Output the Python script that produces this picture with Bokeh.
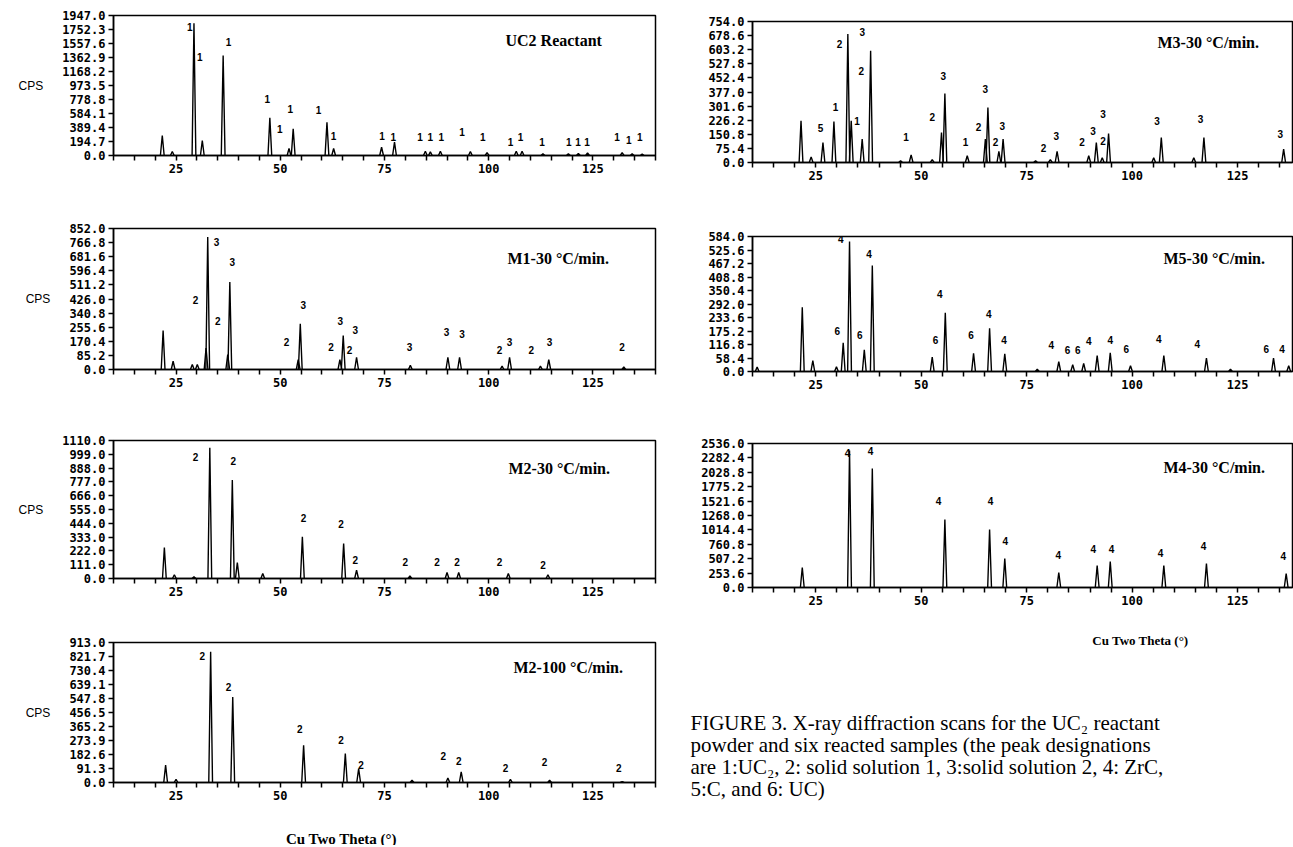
from bokeh.plotting import figure
from bokeh.layouts import row, column
from bokeh.models import Range1d, FixedTicker, Label, PrintfTickFormatter
from bokeh.core.properties import value
from bokeh.embed import file_html
from bokeh.resources import INLINE

# ---------------- data ----------------
X_MAJOR = [25, 50, 75, 100, 125]
X_MINOR = [10, 15, 20, 30, 35, 40, 45, 55, 60, 65, 70, 80, 85, 90, 95,
           105, 110, 115, 120, 130, 135, 140]

# UC2 reactant
uc2_yticks = [0.0, 194.7, 389.4, 584.1, 778.8, 973.5, 1168.2, 1362.9, 1557.6, 1752.3, 1947.0]
uc2_pos = [21.7, 24.1, 29.3, 31.3, 36.3, 47.5, 52.1, 53.1, 61.2, 62.8, 74.3, 77.4, 84.8, 86.0,
           88.4, 95.6, 99.6, 106.6, 108.0, 113.0, 119.1, 121.5, 123.7, 132.0, 134.4, 136.8]
uc2_int = [278, 55, 1840, 209, 1391, 524, 97, 371, 463, 97, 115, 185, 60, 50,
           60, 55, 40, 60, 60, 25, 25, 30, 35, 40, 25, 20]
uc2_lab_x = [28.3, 30.7, 37.6, 46.9, 49.9, 52.4, 59.2, 62.8, 74.4, 77.1, 83.5, 86.0, 88.6, 93.6,
             98.6, 105.2, 107.6, 112.8, 119.2, 121.4, 123.6, 130.8, 133.6, 136.2]
uc2_lab_y = [1785, 1367, 1576, 789, 371, 650, 626, 278, 278, 255, 255, 255, 255, 324,
             255, 185, 255, 185, 185, 185, 185, 255, 210, 255]
uc2_lab_t = ["1"] * len(uc2_lab_x)

# M1-30
m1_yticks = [0.0, 85.2, 170.4, 255.6, 340.8, 426.0, 511.2, 596.4, 681.6, 766.8, 852.0]
m1_pos = [21.9, 24.3, 28.9, 30.1, 32.2, 32.6, 37.4, 37.9, 54.3, 54.8, 64.3, 65.1, 68.3, 81.2,
          90.2, 93.0, 103.2, 105.0, 112.4, 114.4, 132.4]
m1_int = [236, 50, 30, 30, 130, 800, 90, 528, 60, 276, 60, 205, 74, 25,
          74, 74, 20, 74, 20, 60, 15]
m1_lab_x = [34.7, 29.7, 35.0, 38.5, 55.5, 51.5, 64.4, 62.2, 66.6, 68.0, 81.0, 89.9, 93.6,
            102.6, 105.0, 110.2, 114.6, 132.0]
m1_lab_y = [769, 417, 296, 648, 387, 165, 296, 135, 115, 236, 135, 225, 217,
            115, 169, 115, 169, 135]
m1_lab_t = ["3", "2", "2", "3", "3", "2", "3", "2", "2", "3", "3", "3", "3",
            "2", "3", "2", "3", "2"]

# M2-30
m2_yticks = [0.0, 111.0, 222.0, 333.0, 444.0, 555.0, 666.0, 777.0, 888.0, 999.0, 1110.0]
m2_pos = [22.2, 24.6, 29.3, 33.1, 38.5, 39.7, 45.8, 55.3, 65.2, 68.3, 81.1, 90.0, 92.8, 104.7, 114.2]
m2_int = [250, 30, 15, 1051, 793, 129, 40, 336, 282, 68, 20, 48, 48, 40, 30]
m2_lab_x = [29.7, 38.7, 55.6, 64.6, 68.0, 80.0, 87.6, 92.4, 102.6, 113.0]
m2_lab_y = [975, 943, 488, 440, 145, 131, 131, 131, 131, 105]
m2_lab_t = ["2"] * len(m2_lab_x)

# M2-100
m2h_yticks = [0.0, 91.3, 182.6, 273.9, 365.2, 456.5, 547.8, 639.1, 730.4, 821.7, 913.0]
m2h_pos = [22.5, 25.0, 33.3, 38.6, 55.6, 65.6, 68.8, 81.6, 90.2, 93.4, 105.2, 114.6, 132.0]
m2h_int = [113, 20, 852, 558, 243, 189, 91, 15, 30, 69, 20, 15, 5]
m2h_lab_x = [31.3, 37.6, 54.7, 64.6, 69.4, 89.1, 92.8, 104.0, 113.4, 131.2]
m2h_lab_y = [828, 621, 346, 274, 111, 171, 143, 93, 132, 93]
m2h_lab_t = ["2"] * len(m2h_lab_x)

# M3-30
m3_yticks = [0.0, 75.4, 150.8, 226.2, 301.6, 377.0, 452.4, 527.8, 603.2, 678.6, 754.0]
m3_pos = [21.5, 23.9, 26.7, 29.3, 32.6, 33.4, 36.0, 38.0, 45.1, 47.6, 52.6, 54.8, 55.6, 60.9,
          65.2, 65.8, 68.4, 69.4, 77.1, 80.6, 82.2, 89.7, 91.5, 92.9, 94.4, 105.1, 106.9,
          114.6, 117.0, 135.9]
m3_int = [223, 30, 107, 219, 687, 223, 125, 598, 10, 41, 15, 160, 369, 36,
          125, 294, 60, 125, 10, 15, 59, 36, 107, 25, 155, 25, 134,
          25, 134, 71]
m3_lab_x = [26.1, 29.7, 30.6, 36.0, 34.8, 35.8, 46.4, 52.6, 55.2, 60.5, 63.6, 65.2, 67.6,
            69.2, 79.0, 82.0, 88.1, 90.7, 93.1, 93.1, 105.9, 116.2, 135.1]
m3_lab_y = [187, 298, 633, 696, 223, 491, 134, 241, 464, 107, 191, 393, 107,
            196, 80, 143, 107, 170, 259, 116, 223, 232, 152]
m3_lab_t = ["5", "1", "2", "3", "1", "2", "1", "2", "3", "1", "2", "3", "2",
            "3", "2", "3", "2", "3", "3", "2", "3", "3", "3"]

# M5-30
m5_yticks = [0.0, 58.4, 116.8, 175.2, 233.6, 292.0, 350.4, 408.8, 467.2, 525.6, 584.0]
m5_pos = [11.1, 21.8, 24.3, 29.9, 31.5, 33.0, 36.5, 38.4, 52.6, 55.7, 62.4, 66.2, 69.8, 77.5,
          82.6, 85.9, 88.5, 91.7, 94.8, 99.6, 107.5, 117.6, 123.3, 133.5, 137.1]
m5_int = [19, 278, 47, 20, 124, 562, 94, 458, 62, 254, 79, 187, 76, 10,
          43, 30, 35, 69, 81, 25, 69, 58, 10, 58, 25]
m5_lab_x = [30.1, 30.9, 35.4, 37.6, 53.4, 54.4, 61.8, 66.0, 69.6, 80.8, 84.7, 87.1, 89.7,
            94.8, 98.6, 106.3, 115.4, 131.8, 135.5]
m5_lab_y = [177, 573, 156, 508, 138, 336, 156, 249, 138, 115, 91, 91, 134,
            137, 98, 141, 119, 98, 98]
m5_lab_t = ["6", "4", "6", "4", "6", "4", "6", "4", "4", "4", "6", "6", "4",
            "4", "6", "4", "4", "6", "4"]

# M4-30
m4_yticks = [0.0, 253.6, 507.2, 760.8, 1014.4, 1268.0, 1521.6, 1775.2, 2028.8, 2282.4, 2536.0]
m4_pos = [21.8, 33.0, 38.4, 55.6, 66.2, 69.8, 82.6, 91.7, 94.8, 107.5, 117.6, 136.5]
m4_int = [352, 2411, 2094, 1197, 1021, 510, 264, 387, 458, 387, 422, 246]
m4_lab_x = [32.5, 38.0, 54.1, 66.4, 69.9, 82.5, 90.8, 95.1, 106.7, 116.9, 135.8]
m4_lab_y = [2376, 2411, 1531, 1531, 827, 581, 686, 686, 616, 739, 546]
m4_lab_t = ["4"] * len(m4_lab_x)

X_TITLE = "Cu Two Theta (°)"
CAPTION = [
    "FIGURE 3. X-ray diffraction scans for the UC\u2082 reactant",
    "powder and six reacted samples (the peak designations",
    "are 1:UC\u2082, 2: solid solution 1, 3:solid solution 2, 4: ZrC,",
    "5:C, and 6: UC)",
]


# ---------------- drawing ----------------
def style_axis(ax):
    ax.axis_line_width = 1.5
    ax.axis_line_color = "black"
    ax.major_tick_line_width = 1.5
    ax.major_tick_line_color = "black"
    ax.major_tick_out = 5
    ax.major_tick_in = 0
    ax.minor_tick_line_width = 1.5
    ax.minor_tick_line_color = "black"
    ax.minor_tick_out = 5
    ax.minor_tick_in = 0
    ax.major_label_text_font = "DejaVu Sans Mono"
    ax.major_label_text_font_style = "bold"
    ax.major_label_text_font_size = "12px"
    ax.major_label_text_color = "black"
    ax.major_label_standoff = 3


def make_panel(title, yticks, pos, inten, lab_x, lab_y, lab_t, *, width, height, left, right,
               top, bottom, x_end, cps, title_dx, title_dy):
    ymax = yticks[-1]
    p = figure(width=width, height=height, x_range=Range1d(10, x_end), y_range=Range1d(0, ymax),
               min_border_left=left, min_border_right=right, min_border_top=top,
               min_border_bottom=bottom, output_backend="svg", toolbar_location=None)
    p.xgrid.visible = False
    p.ygrid.visible = False
    p.outline_line_color = "black"
    p.outline_line_width = 1.5
    p.outline_line_alpha = 1.0
    xa = p.xaxis[0]
    ya = p.yaxis[0]
    xa.ticker = FixedTicker(ticks=X_MAJOR, minor_ticks=X_MINOR)
    ya.ticker = FixedTicker(ticks=yticks)
    ya.formatter = PrintfTickFormatter(format="%.1f")
    style_axis(xa)
    style_axis(ya)
    ya.minor_tick_line_color = None
    if cps:
        ya.axis_label = "CPS"
        ya.axis_label_orientation = "horizontal"
        ya.axis_label_text_font = "Liberation Sans"
        ya.axis_label_text_font_style = "normal"
        ya.axis_label_text_font_size = "12px"
        ya.axis_label_standoff = 16
        ya.axis_label_text_color = "black"

    frame_w = width - left - right
    frame_h = height - top - bottom
    w = 0.45
    xs = [[c - w, c, c + w] for c in pos]
    ys = [[0, h, 0] for h in inten]
    p.multi_line(xs, ys, line_color="black", line_width=1.4)
    p.text(x=lab_x, y=lab_y, text=lab_t, text_font=value("Liberation Sans"),
           text_font_style="bold", text_font_size="10px", text_align="center",
           text_baseline="middle", text_color="black")
    tx = 10 + title_dx * (x_end - 10) / frame_w
    ty = ymax * (1 - title_dy / frame_h)
    p.add_layout(Label(x=tx, y=ty, text=title, text_font="Liberation Serif",
                       text_font_style="bold", text_font_size="16px",
                       text_baseline="middle", text_align="left", text_color="black"))
    return p


def blank(width, height, page_x0, page_y0):
    # ranges expressed in page pixels
    p = figure(width=width, height=height, x_range=Range1d(page_x0, page_x0 + width),
               y_range=Range1d(page_y0 + height, page_y0),
               x_axis_type=None, y_axis_type=None, min_border=0,
               output_backend="svg", toolbar_location=None)
    p.outline_line_color = None
    p.grid.visible = False
    return p


L = dict(width=660, left=113, right=5, x_end=140, cps=True)
R = dict(width=633, left=92, right=1, x_end=138, cps=False)

f1 = make_panel("UC2 Reactant", uc2_yticks, uc2_pos, uc2_int, uc2_lab_x, uc2_lab_y, uc2_lab_t,
                height=205, top=15, bottom=50, title_dx=392, title_dy=25, **L)
f2 = make_panel("M1-30 °C/min.", m1_yticks, m1_pos, m1_int, m1_lab_x, m1_lab_y, m1_lab_t,
                height=213, top=23, bottom=49, title_dx=394, title_dy=30, **L)
f3 = make_panel("M2-30 °C/min.", m2_yticks, m2_pos, m2_int, m2_lab_x, m2_lab_y, m2_lab_t,
                height=202, top=22, bottom=42, title_dx=395, title_dy=28, **L)
f4 = make_panel("M2-100 °C/min.", m2h_yticks, m2h_pos, m2h_int, m2h_lab_x, m2h_lab_y, m2h_lab_t,
                height=195, top=22, bottom=33, title_dx=400, title_dy=25, **L)
t1 = blank(660, 30, 0, 815)
t1.text(x=[341], y=[838], text=[X_TITLE], text_font=value("Liberation Serif"),
        text_font_style="bold", text_font_size="15px", text_align="center",
        text_baseline="middle", text_color="black")

g1 = make_panel("M3-30 °C/min.", m3_yticks, m3_pos, m3_int, m3_lab_x, m3_lab_y, m3_lab_t,
                height=212, top=21, bottom=50, title_dx=405, title_dy=21, **R)
g2 = make_panel("M5-30 °C/min.", m5_yticks, m5_pos, m5_int, m5_lab_x, m5_lab_y, m5_lab_t,
                height=206, top=24, bottom=47, title_dx=411, title_dy=22, **R)
g3 = make_panel("M4-30 °C/min.", m4_yticks, m4_pos, m4_int, m4_lab_x, m4_lab_y, m4_lab_t,
                height=202, top=25, bottom=33, title_dx=411, title_dy=24, **R)
g4 = blank(633, 225, 660, 620)
g4.text(x=[1140], y=[640], text=[X_TITLE], text_font=value("Liberation Serif"),
        text_font_style="bold", text_font_size="13px", text_align="center",
        text_baseline="middle", text_color="black")
g4.text(x=[690] * len(CAPTION), y=[722 + 22.3 * k for k in range(len(CAPTION))], text=CAPTION,
        text_font=value("Liberation Serif"), text_font_size="21px", text_align="left",
        text_baseline="middle", text_color="black")

left_col = column(column(f1, f2, f3, f4), row(t1))
right_col = column(column(g1, g2, g3), row(g4))
layout = row(left_col, right_col)
open("out.html", "w").write(file_html(layout, INLINE))
